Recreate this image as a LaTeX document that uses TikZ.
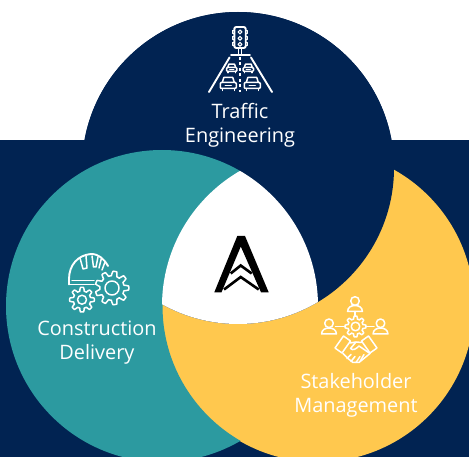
\documentclass[tikz,border=0pt]{standalone}
\usepackage{fontspec}
\setmainfont{Open Sans}
\definecolor{navy}{HTML}{012352}
\definecolor{tealc}{HTML}{2C9AA0}
\definecolor{yellowc}{HTML}{FFC84E}
\tikzset{
  icon/.style={draw=white,line width=1.9pt,line join=round,line cap=round,fill=none},
  thin icon/.style={icon,line width=1.5pt},
  lab/.style={text=white,align=center,font=\fontsize{19.9}{24}\selectfont,inner sep=0pt},
  logo/.style={draw=black,line cap=butt,line join=miter,fill=none},
}
\newcommand{\gearat}[5]{% cx cy r amp teeth
  \draw[thin icon] plot[domain=0:360,samples=#5*12+1] ({#1+(#3+#4*max(-1,min(1,2.4*cos(#5*\x))))*cos(\x)},{#2+(#3+#4*max(-1,min(1,2.4*cos(#5*\x))))*sin(\x)});
}
\newcommand{\carat}[3]{% cx cy scale
  \begin{scope}[shift={(#1,#2)},x=#3pt,y=-#3pt]
    \draw[thin icon] (-6,0) -- (-4.5,-5) -- (4.5,-5) -- (6,0);
    \draw[thin icon,rounded corners=1pt] (-8,0) rectangle (8,6);
    \draw[thin icon] (-3,3) -- (3,3);
    \draw[thin icon] (-6,6) -- (-6,8) (6,6) -- (6,8);
  \end{scope}
}
\newcommand{\personat}[3]{% cx cy head, cy body bottom
  \draw[thin icon] (#1,#2) circle (4.3);
  \draw[thin icon] (#1-7.4,#3) .. controls (#1-7.4,#3-4) and (#1-4,#3-6) .. (#1,#3-6) .. controls (#1+4,#3-6) and (#1+7.4,#3-4) .. (#1+7.4,#3) -- cycle;
}
\begin{document}
\begin{tikzpicture}[x=1pt,y=-1pt]
\useasboundingbox (0,0) rectangle (469,457);
\fill[white] (0,0) rectangle (469,457);
\fill[navy] (0,140) rectangle (469,457);
\fill[navy] (238,168) circle (156);
\fill[yellowc] (318,306) circle (156);
\fill[navy] (238,168) circle (156);
\begin{scope}[even odd rule]
  \clip (-10,-10) rectangle (480,470) (318,306) circle (155.5);
  \fill[tealc] (162,306) circle (156);
\end{scope}
\begin{scope}
  \clip (238,168) circle (156);
  \clip (318,306) circle (156);
  \clip (162,306) circle (156);
  \fill[white] (0,0) rectangle (469,457);
\end{scope}
% logo
\fill[black] (214.3,292.3) -- (237.3,236) -- (245,236) -- (268.7,292.3) -- (261,292.3) -- (240.8,246.5) -- (221.5,292.3) -- cycle;
\draw[logo,line width=2.6pt] (230.7,273.5) -- (240.7,265.5) -- (251.7,273.5);
\draw[logo,line width=2.6pt] (224,289.5) -- (240.7,277) -- (258.7,289.5);
% traffic icon
\draw[icon,rounded corners=2pt] (234.3,27) rectangle (245.7,48);
\foreach \yy in {32,38.3,44.3}{
  \draw[thin icon,line width=1.2pt] (240,\yy) circle (1.9);
  \draw[thin icon,line width=1.2pt] (234.3,\yy-1.5) -- (232.5,\yy-1.5) -- (232.5,\yy+1.5) -- (234.3,\yy+1.5);
  \draw[thin icon,line width=1.2pt] (245.7,\yy-1.5) -- (247.5,\yy-1.5) -- (247.5,\yy+1.5) -- (245.7,\yy+1.5);
}
\draw[thin icon] (238.3,48) -- (238.3,54.5) (241.7,48) -- (241.7,54.5);
\draw[icon] (231,54.7) -- (250,54.7);
\draw[icon] (229.5,57.5) -- (209,92);
\draw[icon] (251,57.5) -- (272,92);
\draw[icon,dash pattern=on 3pt off 2.5pt,line cap=butt] (240,57) -- (240,92);
\carat{231.7}{67.5}{0.65}
\carat{248.3}{67.5}{0.65}
\carat{228.3}{82.5}{1}
\carat{252.3}{82.5}{1}
% hard hat and gears
\draw[icon] (69,284.5) -- (69,279) .. controls (69,265) and (78,255) .. (91,254) .. controls (99,254) and (104,259) .. (108,266);
\draw[icon] (69,284.5) -- (94,284.5);
\draw[thin icon] (72,280.5) -- (94,280.5);
\draw[thin icon] (80,258) -- (83,269) -- (87,268) -- (86,256);
\draw[thin icon] (92,256) -- (93.5,267) -- (96,267) -- (98,257);
\draw[thin icon] (101.5,258) -- (99,268) (102,270) -- (105,262);
\gearat{112}{288}{14.5}{2.3}{9}
\draw[thin icon] (112,288) circle (7);
\gearat{82}{299.7}{10.5}{1.8}{8}
\draw[thin icon] (82,299.7) circle (4.5);
% stakeholder icon
\personat{355}{301}{311.5}
\personat{329}{323.3}{334}
\personat{380.5}{323.3}{334}
\draw[thin icon] (355,311.5) -- (355,316) (335.5,326.5) -- (345,326.5) (366,326.5) -- (374,326.5);
\gearat{355.5}{326.5}{9}{1.4}{8}
\draw[thin icon] (355.5,326.5) circle (4.3);
\draw[thin icon] (335,348) -- (343.5,336) -- (350.5,341) -- (342,353) -- cycle;
\draw[thin icon] (377,348) -- (368.5,336) -- (361.5,341) -- (370,353) -- cycle;
\draw[thin icon] (350,343) -- (356,342) -- (350.5,348.5) .. controls (353,351) and (356,349) .. (359,346) -- (370,353.5);
\draw[thin icon] (361.5,342.5) -- (356,342);
\draw[thin icon] (343,353.5) -- (348,358.5) -- (353,362.5) -- (359,362.5) -- (370,353.5);
\draw[thin icon] (351,354.5) -- (347,358.5) (355,356.5) -- (351,361.5) (360,356.5) -- (356,362.5) (364,354.5) -- (360,361.5);
% labels
\node[lab] (traffic) at (240,125.5) {Traffic\\Engineering};
\node[lab] (construction) at (97,342.5) {Construction\\Delivery};
\node[lab] (stakeholder) at (356,395.5) {Stakeholder\\Management};
\end{tikzpicture}
\end{document}
